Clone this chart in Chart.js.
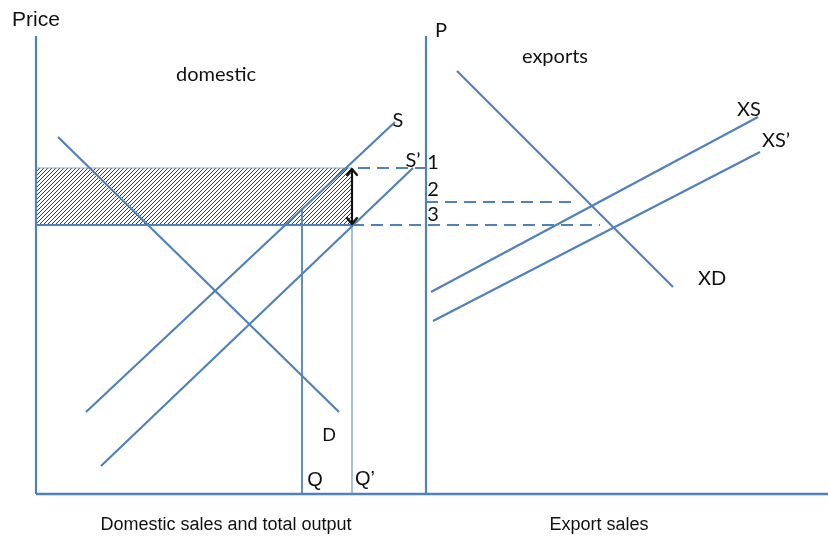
<!DOCTYPE html>
<html>
<head>
<meta charset="utf-8">
<script src="https://cdn.jsdelivr.net/npm/chart.js@4.4.1/dist/chart.umd.min.js"></script>
<style>
html,body{margin:0;padding:0;background:#fff;}
#wrap{width:828px;height:541px;}
</style>
</head>
<body>
<div id="wrap"><canvas id="c" width="828" height="541"></canvas></div>
<script>
// ---- Diagram data (quantity on x, price on y; arbitrary units) ----
const xMax = 79.2, yMax = 45.8;
const pAxisX = 39;                       // x where the export panel's price axis sits
const price1 = 32.6, price2 = 29.2, price3 = 26.9;
const qDomestic = 26.6, qTotal = 31.6;   // Q and Q'

const demandD   = [[2.2, 35.7], [30.3, 8.2]];
const supplyS   = [[5.0, 8.2], [35.9, 37.2]];
const supplyS2  = [[6.5, 2.8], [37.7, 32.6]];
const exportXD  = [[42.1, 42.3], [63.7, 20.7]];
const exportXS  = [[39.5, 20.2], [72.2, 37.7]];
const exportXS2 = [[39.7, 17.3], [72.4, 34.2]];
const qTop = 28.6;                        // where Q meets S

const dash1 = [[32.2, price1], [pAxisX, price1]];
const dash2 = [[pAxisX, price2], [54.1, price2]];
const dash3 = [[qTotal, price3], [56.4, price3]];

const arrowX = [qTotal, qTotal];
const arrowY = [price1, price3];

const labels = [
  {t: 'Price', x: 0, y: 47.4, f: 'big'},
  {t: 'P', x: 40.5, y: 46.3},
  {t: 'domestic', x: 18.0, y: 41.9},
  {t: 'exports', x: 51.9, y: 43.7},
  {t: 'S', x: 36.2, y: 37.3},
  {t: 'S\u2019', x: 37.7, y: 33.3},
  {t: '1', x: 39.7, y: 33.1},
  {t: '2', x: 39.7, y: 30.4},
  {t: '3', x: 39.7, y: 27.9},
  {t: 'XS', x: 71.3, y: 38.4},
  {t: 'XS\u2019', x: 74.0, y: 35.3},
  {t: 'XD', x: 67.6, y: 21.5},
  {t: 'D', x: 29.3, y: 5.9, f: 'small'},
  {t: 'Q', x: 27.9, y: 1.4, f: 'q'},
  {t: 'Q\u2019', x: 32.9, y: 1.5, f: 'q'},
  {t: 'Domestic sales and total output', x: 19.0, y: -3.1, f: 'axis'},
  {t: 'Export sales', x: 56.3, y: -3.1, f: 'axis'}
];

// ---- styles ----
const BLUE = '#4F81BD';
const pts = a => a.map(p => ({x: p[0], y: p[1]}));
const FONTS = {
  axis: '18px "Liberation Sans", Arial, sans-serif',
  big: '21px "Liberation Sans", Arial, sans-serif',
  q: '20px "Liberation Sans", Arial, sans-serif',
  small: '18px Lato, "Open Sans", sans-serif',
  def: '20px Lato, "Open Sans", sans-serif'
};

function hatch() {
  const c = document.createElement('canvas');
  c.width = 4; c.height = 4;
  const g = c.getContext('2d');
  g.fillStyle = '#fff'; g.fillRect(0, 0, 4, 4);
  g.strokeStyle = '#3a3a3a'; g.lineWidth = 1;
  g.beginPath();
  g.moveTo(0, 4); g.lineTo(4, 0);
  g.moveTo(-1, 1); g.lineTo(1, -1);
  g.moveTo(3, 5); g.lineTo(5, 3);
  g.stroke();
  return g.createPattern(c, 'repeat');
}

function line(data, opts) {
  return Object.assign({
    data: pts(data), borderColor: BLUE, borderWidth: 2.2,
    pointRadius: 0, fill: false, tension: 0, clip: false, order: 0
  }, opts || {});
}

const datasets = [
  // hatched rectangle (top edge fills down to bottom edge), drawn behind everything
  line([[0, price1], [qTotal, price1]], {borderColor: '#8da3bf', borderWidth: 1, fill: '+1', backgroundColor: hatch(), order: 10}),
  line([[0, price3], [qTotal, price3]], {borderWidth: 2, order: 9}),
  // axes
  line([[0, 0], [0, yMax]]),
  line([[0, 0], [xMax, 0]], {borderWidth: 2.6}),
  line([[pAxisX, 0], [pAxisX, yMax]]),
  // domestic curves
  line(demandD),
  line(supplyS),
  line(supplyS2),
  line([[qDomestic, 0], [qDomestic, qTop]], {borderWidth: 1.8}),
  line([[qTotal, 0], [qTotal, price3]], {borderWidth: 1}),
  // export curves
  line(exportXD),
  line(exportXS),
  line(exportXS2),
  // dashed price links
  line(dash1, {borderDash: [12, 7]}),
  line(dash2, {borderDash: [12, 7]}),
  line(dash3, {borderDash: [12, 7]})
];

const annot = {
  id: 'annot',
  afterDatasetsDraw(chart) {
    const {ctx, scales: {x, y}} = chart;
    // double arrow
    const ax = x.getPixelForValue(arrowX[0]);
    const y1 = y.getPixelForValue(arrowY[0]), y2 = y.getPixelForValue(arrowY[1]);
    ctx.save();
    ctx.strokeStyle = '#111'; ctx.lineWidth = 2.2; ctx.lineCap = 'round'; ctx.lineJoin = 'round';
    ctx.beginPath();
    ctx.moveTo(ax, y1 + 1); ctx.lineTo(ax, y2 - 1);
    ctx.moveTo(ax - 5, y1 + 7); ctx.lineTo(ax, y1 + 1); ctx.lineTo(ax + 5, y1 + 7);
    ctx.moveTo(ax - 5, y2 - 7); ctx.lineTo(ax, y2 - 1); ctx.lineTo(ax + 5, y2 - 7);
    ctx.stroke();
    // labels
    ctx.fillStyle = '#111';
    ctx.textAlign = 'center'; ctx.textBaseline = 'middle';
    labels.forEach(l => {
      ctx.font = FONTS[l.f || 'def'];
      ctx.fillText(l.t, x.getPixelForValue(l.x), y.getPixelForValue(l.y));
    });
    ctx.restore();
  }
};

new Chart(document.getElementById('c'), {
  type: 'line',
  data: {datasets},
  options: {
    responsive: false,
    animation: false,
    events: [],
    layout: {padding: {left: 36, right: 0, top: 36, bottom: 47}},
    plugins: {legend: {display: false}, tooltip: {enabled: false}},
    scales: {
      x: {type: 'linear', min: 0, max: xMax, display: false},
      y: {type: 'linear', min: 0, max: yMax, display: false}
    }
  },
  plugins: [annot]
});
</script>
</body>
</html>
